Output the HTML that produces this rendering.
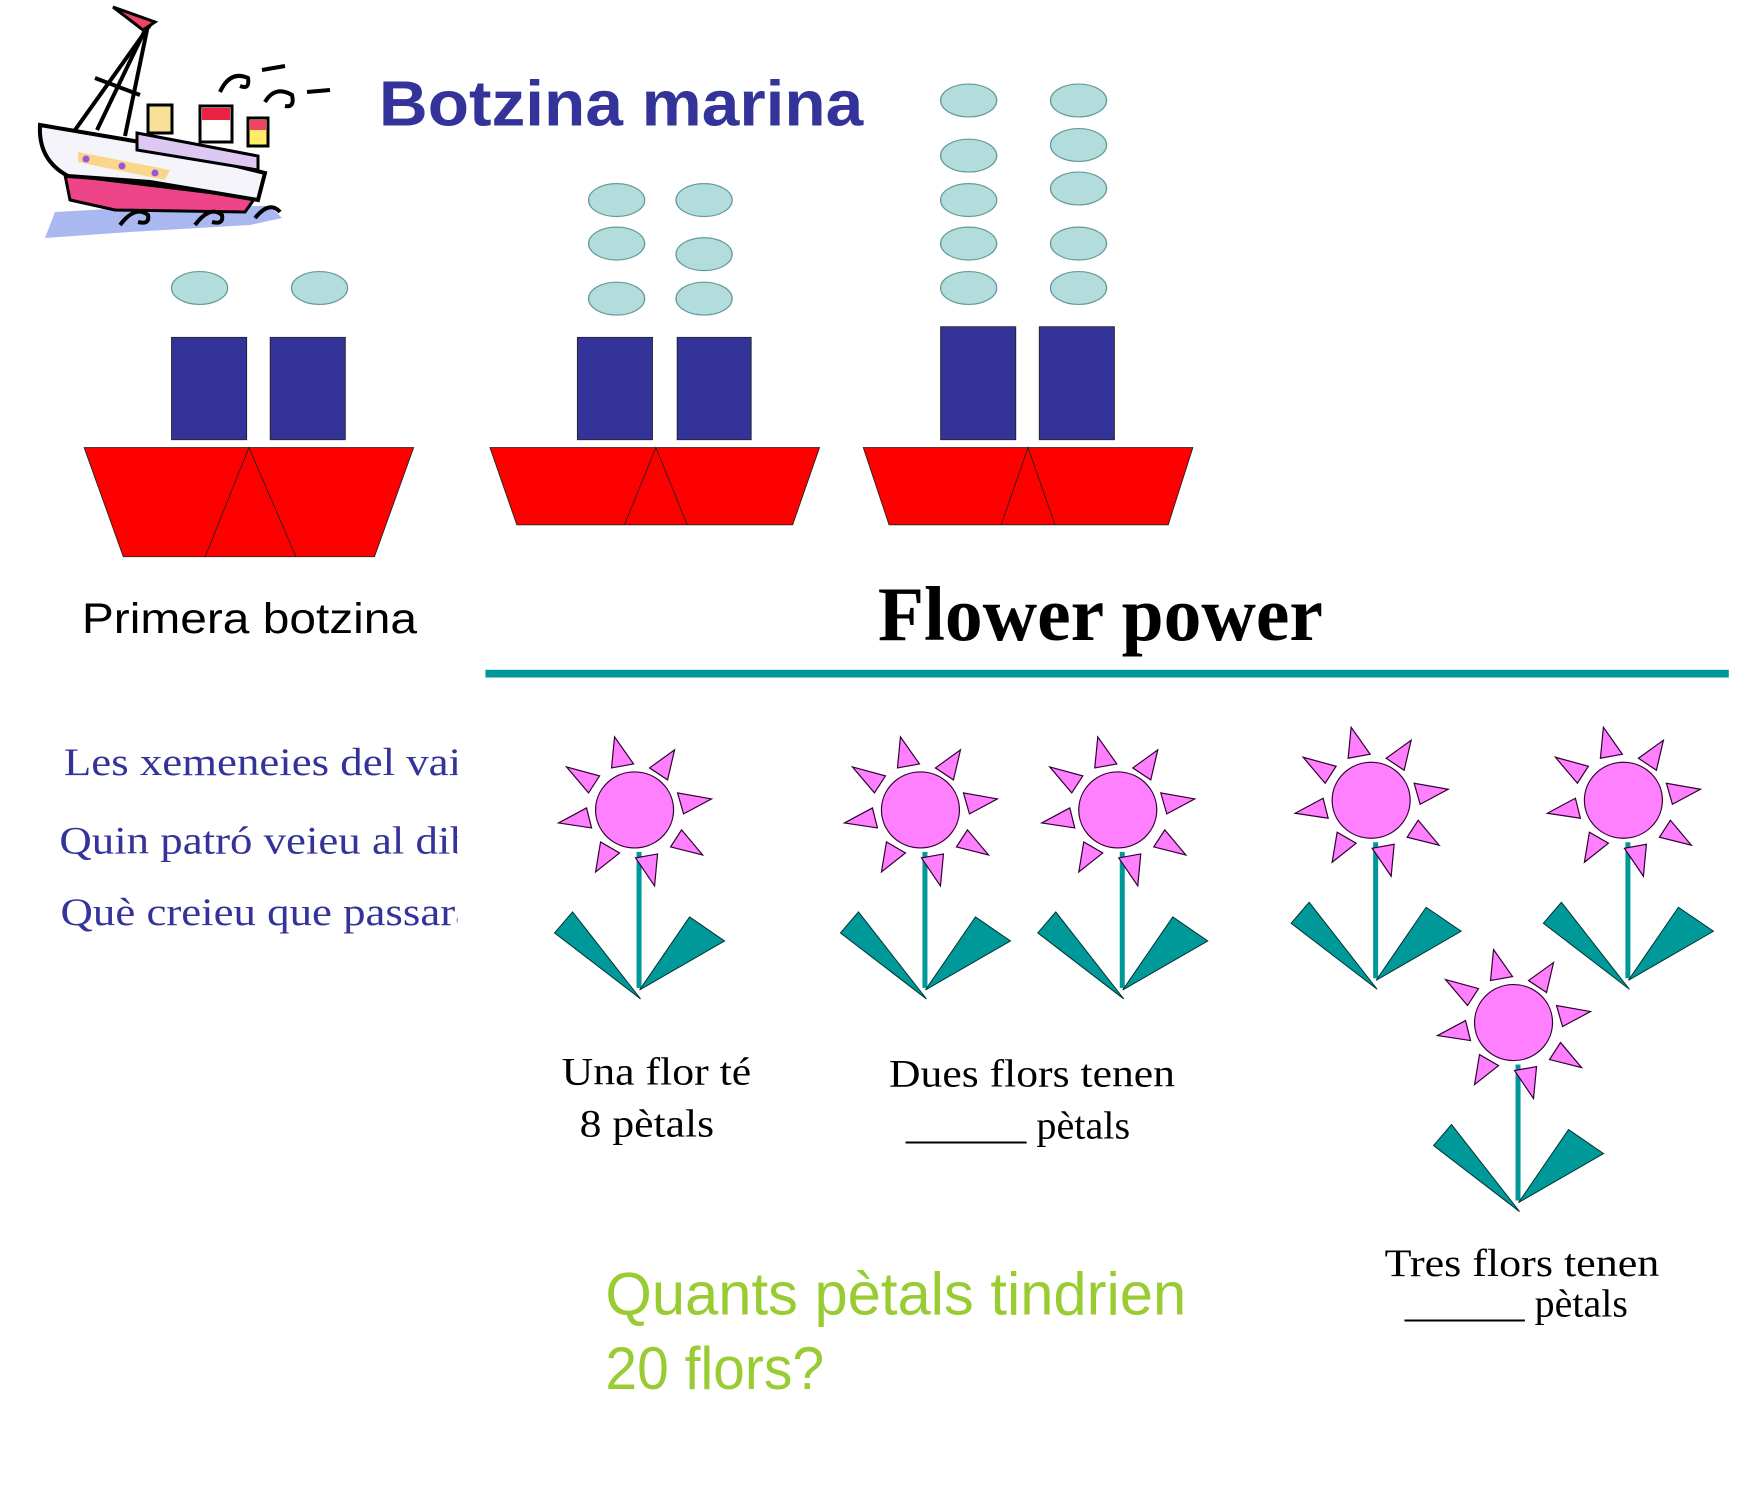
<!DOCTYPE html>
<html><head><meta charset="utf-8"><style>
html,body{margin:0;padding:0;background:#fff;width:1740px;height:1500px;overflow:hidden}
svg{position:absolute;left:0;top:0}
</style></head><body>
<svg width="1740" height="1500" viewBox="0 0 1552 1552" preserveAspectRatio="none">
<defs>
<g id="fl">
 <g transform="scale(0.892,1.0347)">
  <g fill="#ff80ff" stroke="#330033" stroke-width="1.2">
   <polygon points="-20,-73 -23,-42 -1,-46"/>
   <polygon points="40,-60 15,-42 33,-30"/>
   <polygon points="77,-11 43,-17 49,4"/>
   <polygon points="68,45 47,20 36,37"/>
   <polygon points="-39,62 -34,32 -15,43"/>
   <polygon points="-76,13 -48,-2 -43,18"/>
   <polygon points="-68,-43 -35,-34 -46,-17"/>
   <ellipse cx="0" cy="0" rx="39" ry="38"/>
  </g>
  <rect x="2" y="42" width="5" height="136" fill="#009999"/>
  <polygon points="20,76 23,44 1,48" fill="#ff80ff" stroke="#330033" stroke-width="1.2"/>
  <g fill="#009999" stroke="#003333" stroke-width="1">
   <polygon points="-80,123 -62,102 6,189"/>
   <polygon points="55,107 90,131 5,180"/>
  </g>
 </g>
</g>
</defs>
<text x="338" y="130" font-family="Liberation Sans, sans-serif" font-weight="bold" font-size="66" fill="#333399" textLength="432" lengthAdjust="spacingAndGlyphs">Botzina  marina</text>
<g fill="#b3dddd" stroke="#669999" stroke-width="1.2">
 <ellipse cx="178" cy="298" rx="25" ry="17"/><ellipse cx="285" cy="298" rx="25" ry="17"/>
 <ellipse cx="550" cy="207" rx="25" ry="17"/><ellipse cx="550" cy="252" rx="25" ry="17"/><ellipse cx="550" cy="309" rx="25" ry="17"/>
 <ellipse cx="628" cy="207" rx="25" ry="17"/><ellipse cx="628" cy="263" rx="25" ry="17"/><ellipse cx="628" cy="309" rx="25" ry="17"/>
 <ellipse cx="864" cy="104" rx="25" ry="17"/><ellipse cx="864" cy="161" rx="25" ry="17"/><ellipse cx="864" cy="207" rx="25" ry="17"/><ellipse cx="864" cy="252" rx="25" ry="17"/><ellipse cx="864" cy="298" rx="25" ry="17"/>
 <ellipse cx="962" cy="104" rx="25" ry="17"/><ellipse cx="962" cy="150" rx="25" ry="17"/><ellipse cx="962" cy="195" rx="25" ry="17"/><ellipse cx="962" cy="252" rx="25" ry="17"/><ellipse cx="962" cy="298" rx="25" ry="17"/>
</g>
<g fill="#333399" stroke="#222" stroke-width="0.8">
 <rect x="153" y="349" width="67" height="106"/><rect x="241" y="349" width="67" height="106"/>
 <rect x="515" y="349" width="67" height="106"/><rect x="604" y="349" width="66" height="106"/>
 <rect x="839" y="338" width="67" height="117"/><rect x="927" y="338" width="67" height="117"/>
</g>
<g fill="#ff0000" stroke="#222" stroke-width="0.8">
 <polygon points="75,463 369,463 334,576 110,576"/>
 <polyline fill="none" points="183,576 222,463 264,576"/>
 <polygon points="437,463 731,463 707,543 461,543"/>
 <polyline fill="none" points="557,543 585,463 613,543"/>
 <polygon points="770,463 1064,463 1042,543 793,543"/>
 <polyline fill="none" points="893,543 917,463 941,543"/>
</g>
<text x="73" y="655" font-family="Liberation Sans, sans-serif" font-size="44" fill="#000" textLength="299" lengthAdjust="spacingAndGlyphs">Primera botzina</text>
<text x="783" y="662" font-family="Liberation Serif, serif" font-weight="bold" font-size="80" fill="#000" textLength="397" lengthAdjust="spacingAndGlyphs">Flower  power</text>
<rect x="433" y="693" width="1109" height="8" fill="#009999"/>
<svg x="0" y="740" width="408" height="260" viewBox="0 740 408 260">
<g font-family="Liberation Serif, serif" font-size="40" fill="#333399">
 <text x="57" y="802">Les xemeneies del vaixell</text>
 <text x="53" y="883">Quin patró veieu al dibuix?</text>
 <text x="54" y="957">Què creieu que passarà?</text>
</g>
</svg>
<use href="#fl" x="566" y="838"/>
<use href="#fl" x="821" y="838"/>
<use href="#fl" x="997" y="838"/>
<use href="#fl" x="1223" y="828"/>
<use href="#fl" x="1448" y="828"/>
<use href="#fl" x="1350" y="1058"/>
<g font-family="Liberation Serif, serif" font-size="40" fill="#000" lengthAdjust="spacingAndGlyphs">
 <text x="501" y="1122" textLength="169" lengthAdjust="spacingAndGlyphs">Una flor té</text>
 <text x="517" y="1176" textLength="120" lengthAdjust="spacingAndGlyphs">8 pètals</text>
 <text x="793" y="1124" textLength="255" lengthAdjust="spacingAndGlyphs">Dues flors tenen</text>
 <text x="808" y="1178" textLength="200" lengthAdjust="spacingAndGlyphs">______ pètals</text>
 <text x="1235" y="1320" textLength="245" lengthAdjust="spacingAndGlyphs">Tres flors tenen</text>
 <text x="1253" y="1362" textLength="199" lengthAdjust="spacingAndGlyphs">______ pètals</text>
</g>
<g font-family="Liberation Sans, sans-serif" font-size="62" fill="#99cc33">
 <text x="540" y="1360" textLength="518" lengthAdjust="spacingAndGlyphs">Quants pètals tindrien</text>
 <text x="540" y="1437" textLength="195" lengthAdjust="spacingAndGlyphs">20 flors?</text>
</g>
</svg>
<svg width="360" height="260" viewBox="0 0 360 260" style="left:0;top:0">
 <polygon points="45,238 55,212 180,205 270,206 282,218 250,225 130,232" fill="#a9b8f0"/>
 <polygon points="65,175 255,198 245,212 115,210 70,200" fill="#ee4488" stroke="#000" stroke-width="3"/>
 <path d="M40,125 L140,142 L265,173 L258,200 L150,182 L68,176 Q38,160 40,125 Z" fill="#f4f4fa" stroke="#000" stroke-width="4"/>
 <polygon points="78,152 170,170 165,180 78,162" fill="#f8d888"/>
 <circle cx="86" cy="159" r="3.5" fill="#9955dd"/><circle cx="122" cy="166" r="3.5" fill="#9955dd"/><circle cx="155" cy="173" r="3.5" fill="#9955dd"/>
 <polygon points="137,133 258,156 258,170 137,150" fill="#ddc8f4" stroke="#000" stroke-width="3"/>
 <rect x="148" y="105" width="24" height="28" fill="#f8e098" stroke="#000" stroke-width="3"/>
 <rect x="200" y="106" width="32" height="36" fill="#fff" stroke="#000" stroke-width="3"/><rect x="202" y="108" width="28" height="12" fill="#ee2244"/>
 <rect x="248" y="118" width="20" height="28" fill="#ffee66" stroke="#000" stroke-width="3"/><rect x="250" y="120" width="16" height="10" fill="#ee4466"/>
 <g stroke="#000" stroke-width="4" fill="none">
  <line x1="150" y1="25" x2="75" y2="130"/><line x1="147" y1="30" x2="125" y2="136"/><line x1="145" y1="30" x2="97" y2="130"/>
  <line x1="95" y1="78" x2="140" y2="95"/>
  <path d="M220,92 Q230,70 248,78 Q250,90 240,86"/><path d="M265,102 Q275,85 292,95 Q295,108 285,106"/>
  <line x1="262" y1="70" x2="285" y2="66"/><line x1="307" y1="92" x2="330" y2="90"/>
  <path d="M120,225 Q135,205 148,215 Q150,225 138,222"/><path d="M195,225 Q210,205 222,215 Q224,225 212,222"/><path d="M255,218 Q270,200 280,212"/>
 </g>
 <polygon points="113,7 155,22 143,30" fill="#ee4466" stroke="#000" stroke-width="3"/>
</svg>
</body></html>
